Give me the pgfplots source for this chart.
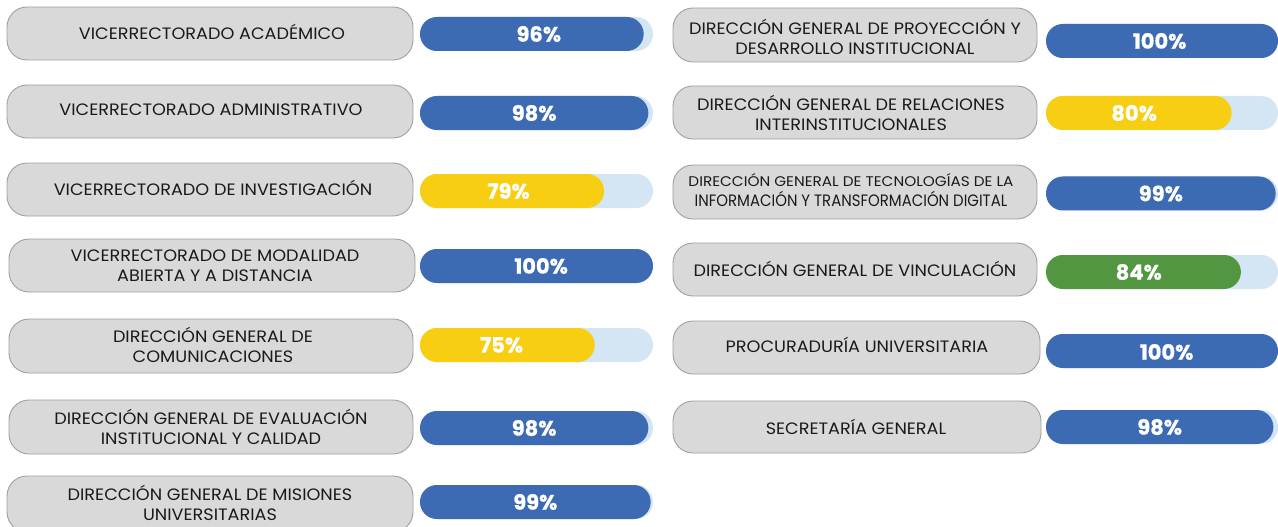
\documentclass[border=0pt]{standalone}
\usepackage{pgfplots}
\pgfplotsset{compat=1.18}
\usepackage{graphicx}
\usepackage{fontspec}
\setmainfont{Poppins}[FakeStretch=1.07]
\newfontfamily\pctfont{Poppins}[FakeBold=0.6]
\definecolor{bblue}{HTML}{3C6BB4}
\definecolor{byellow}{HTML}{F8CE13}
\definecolor{bgreen}{HTML}{529641}
\definecolor{track}{HTML}{D4E5F3}
\definecolor{boxfill}{HTML}{D9D9D9}
\definecolor{boxedge}{HTML}{A0A0A0}
\definecolor{txt}{HTML}{1A1A1A}
\tikzset{
  lbox/.style={draw=boxedge, line width=0.9pt, fill=boxfill, rounded corners=20pt},
  lab/.style={text=txt, align=center, font=\fontsize{16.5}{20}\selectfont, inner sep=0pt},
  pct/.style={text=white, font=\pctfont\fontsize{21}{21}\selectfont\bfseries, inner sep=0pt},
}
\newcommand{\lb}[7]{%
  \draw[lbox] (axis cs:#1,#2) rectangle (axis cs:#3,#4);
  \node[lab] at (axis cs:#5,#6) {#7};}
\pgfplotsset{
  barax/.style={anchor=south west, scale only axis, height=527pt,
    xmin=0, xmax=100, ymin=0, ymax=527, y dir=reverse, hide axis, clip=false,
    xbar, bar width=34pt, bar shift=0pt},
  cap/.style={draw=none, fill=#1, rounded corners=16.9pt},
}
\begin{document}
\begin{tikzpicture}
\begin{axis}[at={(0,0)}, anchor=south west, scale only axis, width=1278pt, height=527pt,
  xmin=0, xmax=1278, ymin=0, ymax=527, y dir=reverse, hide axis, clip=false]
\lb{7}{7}{413}{60}{212}{31.5}{VICERRECTORADO ACADÉMICO}
\lb{7}{85}{413}{138}{211}{110}{VICERRECTORADO ADMINISTRATIVO}
\lb{7}{163}{413}{216}{213}{188}{VICERRECTORADO DE INVESTIGACIÓN}
\lb{9}{239}{415}{292}{215}{266}{VICERRECTORADO DE MODALIDAD\\ABIERTA Y A DISTANCIA}
\lb{9}{319}{413}{373}{213}{345}{DIRECCIÓN GENERAL DE\\COMUNICACIONES}
\lb{9}{400}{413}{454}{211}{426.5}{DIRECCIÓN GENERAL DE EVALUACIÓN\\INSTITUCIONAL Y CALIDAD}
\lb{7}{476}{413}{532}{210}{502.5}{DIRECCIÓN GENERAL DE MISIONES\\UNIVERSITARIAS}
\lb{673}{8}{1037}{62}{855}{36.5}{DIRECCIÓN GENERAL DE PROYECCIÓN Y\\DESARROLLO INSTITUCIONAL}
\lb{673}{86}{1037}{139}{851}{112.5}{DIRECCIÓN GENERAL DE RELACIONES\\INTERINSTITUCIONALES}
\lb{673}{165}{1037}{219}{851}{190.5}{\fontsize{14}{19}\selectfont\scalebox{1.02}[1]{DIRECCIÓN GENERAL DE TECNOLOGÍAS DE LA}\\\scalebox{0.845}[1]{INFORMACIÓN Y TRANSFORMACIÓN DIGITAL}}
\lb{673}{243}{1037}{296}{855}{268.5}{DIRECCIÓN GENERAL DE VINCULACIÓN}
\lb{673}{321}{1040}{374}{857}{345}{PROCURADURÍA UNIVERSITARIA}
\lb{673}{401}{1041}{453}{856}{426.5}{SECRETARÍA GENERAL}
\end{axis}
% left column bars
\begin{axis}[barax, at={(420pt,0)}, width=233pt]
\addplot[cap=track] coordinates {(100,34) (100,113) (100,191) (100,266) (100,345) (100,428) (100,502)};
\addplot[cap=bblue] coordinates {(96,34) (98,113) (100,266) (98,428) (99,502)};
\addplot[cap=byellow] coordinates {(79,191) (75,345)};
\node[pct] at (axis cs:51,34) {96\%};
\node[pct] at (axis cs:49,113) {98\%};
\node[pct] at (axis cs:38,191) {79\%};
\node[pct] at (axis cs:52,266) {100\%};
\node[pct] at (axis cs:35,345) {75\%};
\node[pct] at (axis cs:49,428) {98\%};
\node[pct] at (axis cs:49.5,502) {99\%};
\end{axis}
% right column bars
\begin{axis}[barax, at={(1046pt,0)}, width=232pt]
\addplot[cap=track] coordinates {(100,41) (100,113) (100,193.5) (100,272) (100,351) (100,427)};
\addplot[cap=bblue] coordinates {(100,41) (99,193.5) (100,351) (98,427)};
\addplot[cap=byellow] coordinates {(80,113)};
\addplot[cap=bgreen] coordinates {(84,272)};
\node[pct] at (axis cs:49,41) {100\%};
\node[pct] at (axis cs:38,113) {80\%};
\node[pct] at (axis cs:49.5,193.5) {99\%};
\node[pct] at (axis cs:40,272) {84\%};
\node[pct] at (axis cs:52,352) {100\%};
\node[pct] at (axis cs:49,427) {98\%};
\end{axis}
\pgfresetboundingbox
\path[use as bounding box] (0,0) rectangle (1278pt,527pt);
\end{tikzpicture}
\end{document}
